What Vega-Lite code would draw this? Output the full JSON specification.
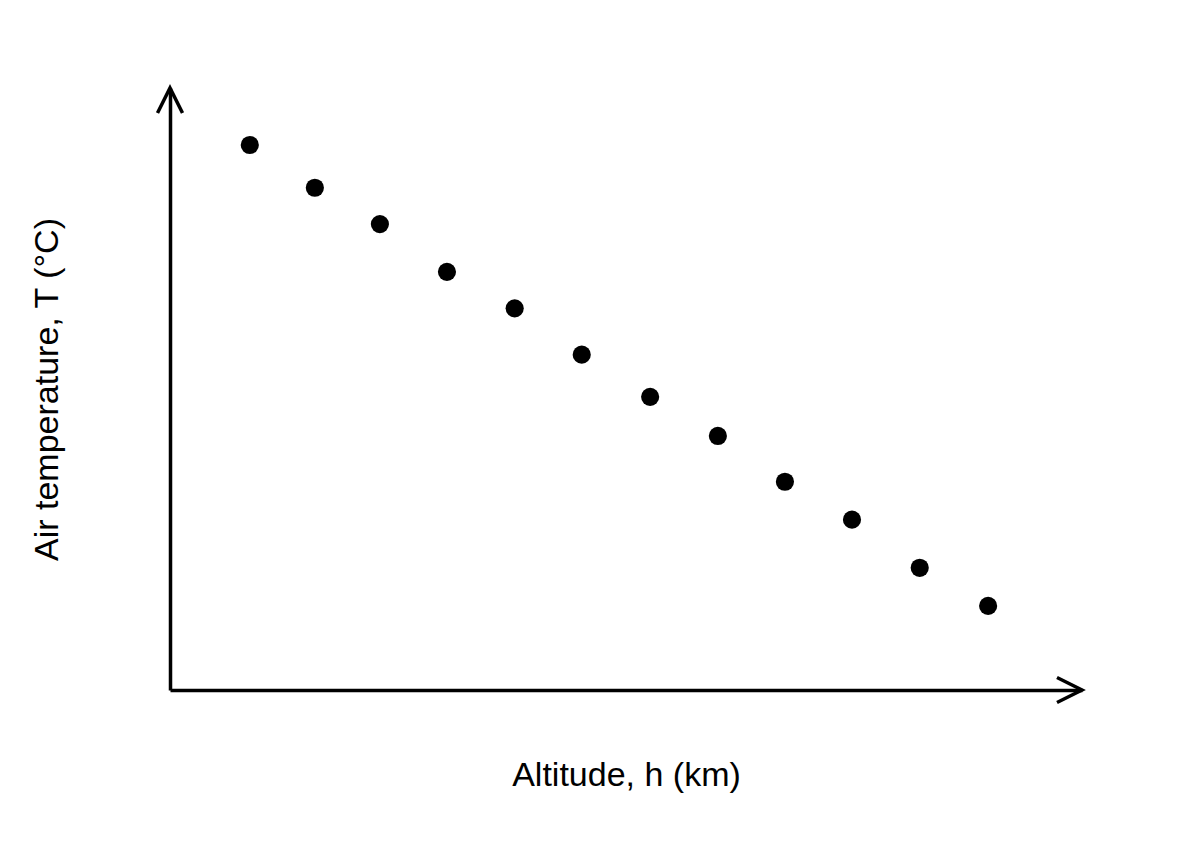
{
  "$schema": "https://vega.github.io/schema/vega-lite/v6.json",
  "width": 912,
  "height": 602,
  "autosize": {"type": "none"},
  "padding": {"left": 170, "top": 88, "right": 118, "bottom": 160},
  "background": "white",
  "config": {
    "view": {"stroke": null},
    "font": "Liberation Sans",
    "axis": {
      "domain": true,
      "domainColor": "black",
      "domainWidth": 3.5,
      "ticks": false,
      "labels": false,
      "grid": false,
      "titleFont": "Liberation Sans",
      "titleFontSize": 34,
      "titleFontWeight": "normal",
      "titleColor": "black",
      "titleBaseline": "alphabetic"
    }
  },
  "data": {
    "values": [
      {"altitude": 1.19, "temperature": 27.16},
      {"altitude": 2.16, "temperature": 25.03},
      {"altitude": 3.13, "temperature": 23.22},
      {"altitude": 4.13, "temperature": 20.84},
      {"altitude": 5.14, "temperature": 19.02},
      {"altitude": 6.14, "temperature": 16.71},
      {"altitude": 7.16, "temperature": 14.61},
      {"altitude": 8.17, "temperature": 12.66},
      {"altitude": 9.17, "temperature": 10.38},
      {"altitude": 10.17, "temperature": 8.49},
      {"altitude": 11.18, "temperature": 6.09},
      {"altitude": 12.2, "temperature": 4.19}
    ]
  },
  "layer": [
    {
      "mark": {"type": "circle", "color": "black", "size": 330, "opacity": 1},
      "encoding": {
        "x": {
          "field": "altitude",
          "type": "quantitative",
          "scale": {"domain": [0, 13.6], "nice": false, "zero": false},
          "axis": {"title": "Altitude, h (km)", "titlePadding": 95}
        },
        "y": {
          "field": "temperature",
          "type": "quantitative",
          "scale": {"domain": [0, 30], "nice": false, "zero": false},
          "axis": {"title": "Air temperature, T (°C)", "titlePadding": 113}
        }
      }
    },
    {
      "data": {"values": [{"arrow": "x"}]},
      "mark": {
        "type": "point",
        "shape": "M-1,-0.5L0,0L-1,0.5",
        "size": 2500,
        "filled": false,
        "stroke": "black",
        "strokeWidth": 3.5,
        "opacity": 1,
        "clip": false
      },
      "encoding": {"x": {"datum": 13.6}, "y": {"datum": 0}}
    },
    {
      "data": {"values": [{"arrow": "y"}]},
      "mark": {
        "type": "point",
        "shape": "M-0.5,1L0,0L0.5,1",
        "size": 2500,
        "filled": false,
        "stroke": "black",
        "strokeWidth": 3.5,
        "opacity": 1,
        "clip": false
      },
      "encoding": {"x": {"datum": 0}, "y": {"datum": 30}}
    }
  ]
}
